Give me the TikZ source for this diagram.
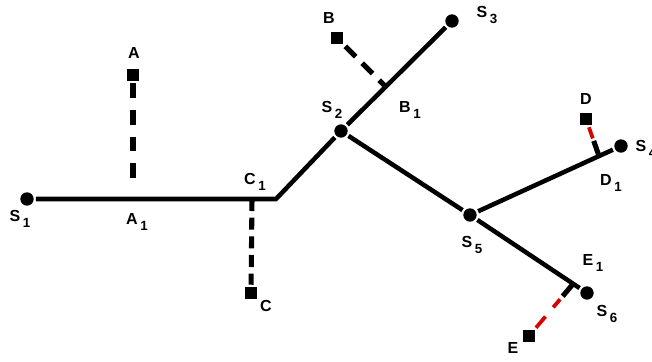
\documentclass[tikz,border=0pt]{standalone}
\usepackage{fontspec}
\setmainfont{Liberation Sans}
\usetikzlibrary{calc}
\newcommand{\etq}[2]{\textbf{#1}\,\raisebox{-4pt}{\fontsize{10}{10}\selectfont\textbf{#2}}}

\begin{document}
\begin{tikzpicture}[x=0.75pt, y=-0.75pt, line width=3.4pt,
  punto/.style={circle, fill, inner sep=0pt, minimum size=10pt},
  caja/.style={rectangle, fill, inner sep=0pt, minimum size=9pt},
  guion/.style={line width=3.8pt, dash pattern=on 11pt off 9pt},
  etiq/.style={font=\fontsize{12}{12}\selectfont\bfseries, inner sep=0pt}]
  \useasboundingbox (0,0) rectangle (652,361);
  % vertices del arbol
  \node[punto] (S1) at (27,199) {};
  \node[punto] (S2) at (341,131) {};
  \node[punto] (S3) at (452,21) {};
  \node[punto] (S4) at (621,146) {};
  \node[punto] (S5) at (470,215) {};
  \node[punto] (S6) at (587,293) {};
  \coordinate (Q) at (276,199);
  % pies de las perpendiculares
  \coordinate (A1) at (133,199);
  \coordinate (C1) at (252,199);
  \coordinate (B1) at (386,87);
  \coordinate (D1) at (599,156);
  \coordinate (E1) at (573,284);
  % puntos exteriores
  \node[caja] (A) at (133,75) {};
  \node[caja] (B) at (337,38) {};
  \node[caja] (C) at (251,293) {};
  \node[caja] (D) at (586,119) {};
  \node[caja] (E) at (529,336) {};
  % ramas
  \draw (S1) -- (Q) -- (S2) -- (S3);
  \draw (S2) -- (S5) -- (S6);
  \draw (S5) -- (S4);
  % distancias a las ramas
  \draw[guion, shorten >=9pt] (A) -- (A1);
  \draw[guion, dash pattern=on 11pt off 7pt] (B) -- (B1);
  \draw[guion, dash pattern=on 9pt off 5pt] (C1) -- (C);
  \draw[guion, line width=2.8pt, red!85!black] (D) -- ($(D1)!14pt!(D)$);
  \draw[guion, line width=2.8pt, red!85!black] (E) -- ($(E1)!15pt!(E)$);
  \draw[line width=3.8pt] (D1) -- ($(D1)!12pt!(D)$);
  \draw[line width=3.8pt] (E1) -- ($(E1)!12pt!(E)$);
  % etiquetas
  \node[etiq] (lS1) at (20,219) {\etq{S}{1}};
  \node[etiq] (lS2) at (332,110) {\etq{S}{2}};
  \node[etiq] (lS3) at (487,15) {\etq{S}{3}};
  \node[etiq] (lS4) at (646,149) {\etq{S}{4}};
  \node[etiq] (lS5) at (472,245) {\etq{S}{5}};
  \node[etiq] (lS6) at (607,314) {\etq{S}{6}};
  \node[etiq] (lA1) at (137,222) {\etq{A}{1}};
  \node[etiq] (lB1) at (410,110) {\etq{B}{1}};
  \node[etiq] (lC1) at (255,182) {\etq{C}{1}};
  \node[etiq] (lD1) at (611,183) {\etq{D}{1}};
  \node[etiq] (lE1) at (593,263) {\etq{E}{1}};
  \node[etiq] (lA) at (134,53) {A};
  \node[etiq] (lB) at (329,18) {B};
  \node[etiq] (lC) at (266,306) {C};
  \node[etiq] (lD) at (586,99) {D};
  \node[etiq] (lE) at (513,348) {E};
\end{tikzpicture}
\end{document}
